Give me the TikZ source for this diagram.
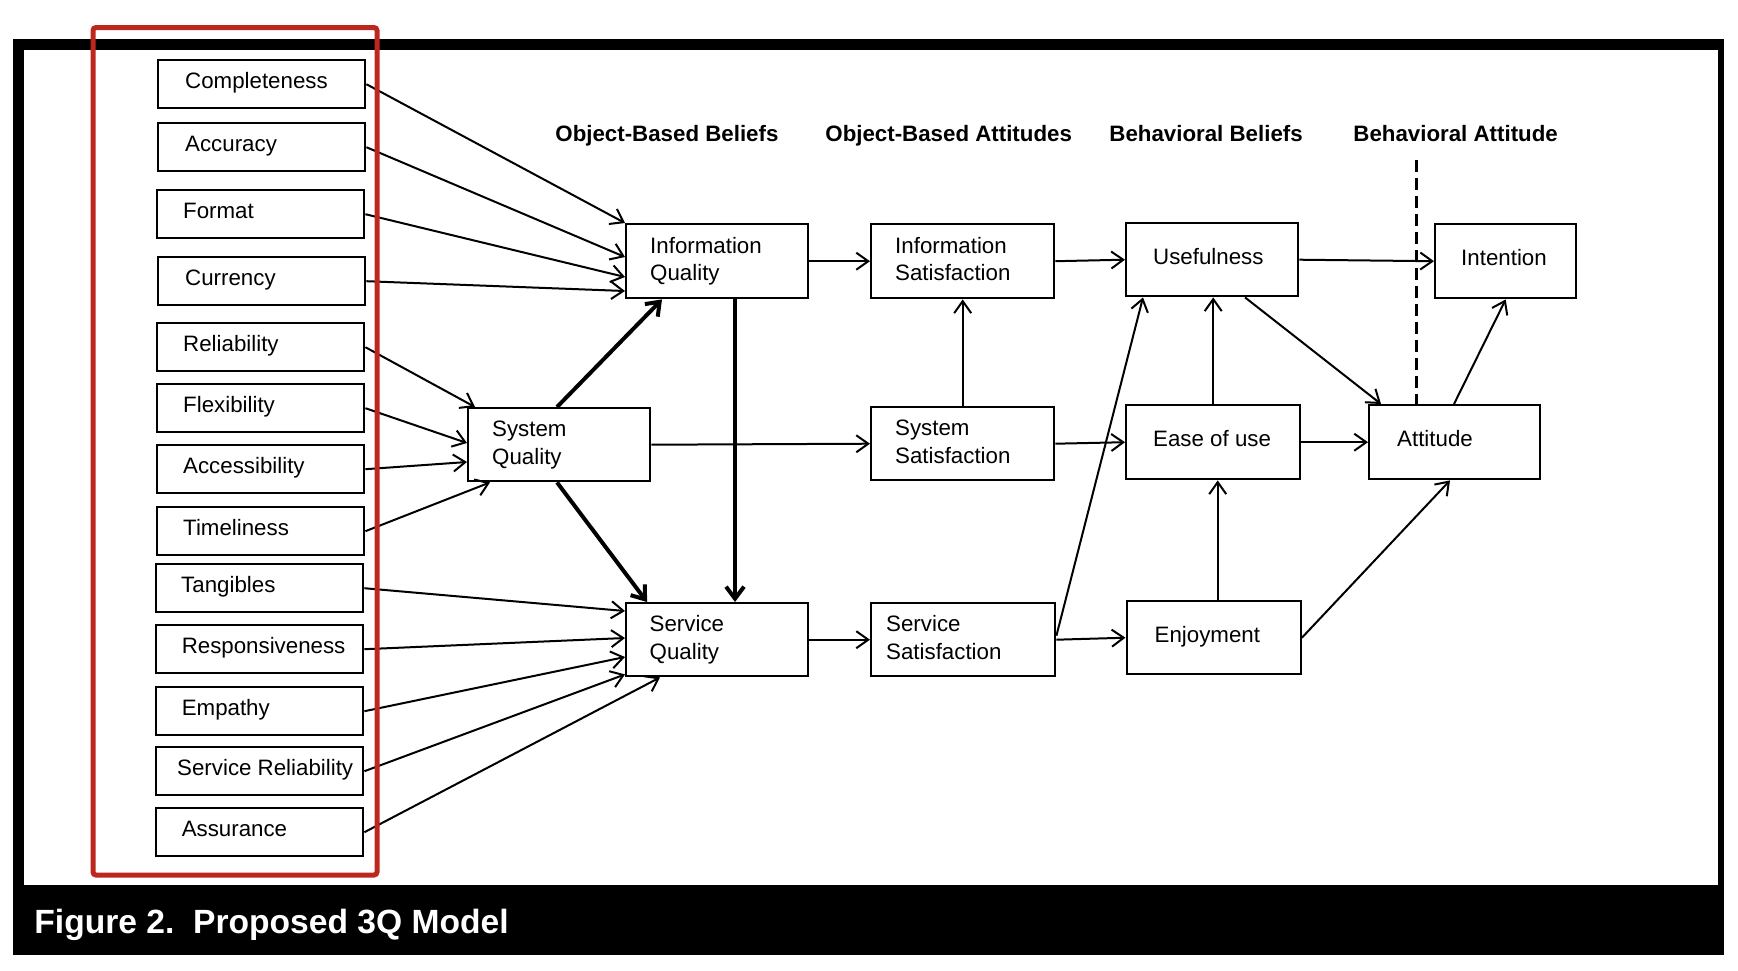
\documentclass[tikz,border=0pt]{standalone}
\usepackage{fontspec}
\setmainfont{Liberation Sans}
\usetikzlibrary{arrows.meta,calc}
\newcommand\lt[3]{\makebox[#1pt][l]{\hspace*{#2pt}#3}}
\definecolor{redbox}{RGB}{188,40,30}
\begin{document}
\begin{tikzpicture}[x=0.5pt,y=-0.5pt,
  box/.style={draw=black,line width=1.2pt,fill=white,inner sep=0pt,anchor=north west,font=\fontsize{11.15}{13.6}\selectfont},
  sl/.style={box,text height=8pt,text depth=3.4pt},
  lb/.style={sl,minimum height=24pt},
  ml/.style={box,align=left,inner ysep=0pt,text height=8pt,text depth=15.8pt},
  arr/.style={line width=1pt,-{Straight Barb[length=6pt,width=8.5pt]}},
  tarr/.style={line width=2pt,-{Straight Barb[length=6pt,width=9pt]}},
  hdr/.style={anchor=base west,inner sep=0pt,font=\bfseries\fontsize{11.15}{13}\selectfont},
]
\useasboundingbox[fill=white] (0,0) rectangle (1738,970);
\fill[black] (13,39) rectangle (1724,955);
\fill[white] (24,50) rectangle (1718,885);
\node[anchor=base west,inner sep=0pt,text=white,font=\bfseries\fontsize{16.8}{20}\selectfont] (cap) at (34,933) {Figure 2.\ \ Proposed 3Q Model};

% headers
\node[hdr] (h1) at (555,141) {Object-Based Beliefs};
\node[hdr] (h2) at (825,141) {Object-Based Attitudes};
\node[hdr] (h3) at (1109,141) {Behavioral Beliefs};
\node[hdr] (h4) at (1353,141) {Behavioral Attitude};

% left boxes
\node[lb] (c1) at (157,59) {\lt{103.5}{13.5}{Completeness}};
\node[lb] (c2) at (157,122) {\lt{103.5}{13.5}{Accuracy}};
\node[lb] (c3) at (156,189) {\lt{103.5}{13}{Format}};
\node[lb] (c4) at (157,256) {\lt{103.5}{13.5}{Currency}};
\node[lb] (c5) at (156,322) {\lt{103.5}{13}{Reliability}};
\node[lb] (c6) at (156,383) {\lt{103.5}{13}{Flexibility}};
\node[lb] (c7) at (156,444) {\lt{103.5}{13}{Accessibility}};
\node[lb] (c8) at (156,506) {\lt{103.5}{13}{Timeliness}};
\node[lb] (c9) at (155,563) {\lt{103.5}{12.5}{Tangibles}};
\node[lb] (c10) at (155,624) {\lt{103.5}{12.8}{Responsiveness}};
\node[lb] (c11) at (155,686) {\lt{103.5}{12.8}{Empathy}};
\node[lb] (c12) at (155,746) {\lt{103.5}{10.5}{Service Reliability}};
\node[lb] (c13) at (155,807) {\lt{103.5}{12.8}{Assurance}};

% middle nodes
\node[ml,text width=67pt,inner xsep=12pt,minimum height=37pt] (iq) at (625,223) {Information\\Quality};
\node[ml,text width=67pt,inner xsep=12pt,minimum height=36.5pt] (sysq) at (467,407) {System\\Quality};
\node[ml,text width=67.5pt,inner xsep=11.75pt,minimum height=36.5pt] (sq) at (625,602) {Service\\Quality};
\node[ml,text width=67.5pt,inner xsep=12pt,minimum height=37pt] (isat) at (870,223) {Information\\Satisfaction};
\node[ml,text width=67.5pt,inner xsep=12pt,minimum height=36.5pt] (ssys) at (870,406) {System\\Satisfaction};
\node[ml,text width=77pt,inner xsep=7.5pt,minimum height=36.5pt] (ssat) at (870,602) {Service\\Satisfaction};
\node[sl,minimum height=36.5pt] (use) at (1125,222) {\lt{86}{13.5}{Usefulness}};
\node[sl,minimum height=37pt] (int) at (1434,223) {\lt{70.5}{13}{Intention}};
\node[sl,minimum height=37pt] (ease) at (1125,404) {\lt{87}{13.5}{Ease of use}};
\node[sl,minimum height=37pt] (att) at (1368,404) {\lt{85.5}{14}{Attitude}};
\node[sl,minimum height=36.5pt] (enj) at (1125.5,600) {\lt{87}{14}{Enjoyment}};

% dashed separator
\coordinate (dtop) at (1416.5,160);
\draw[line width=1.6pt,dash pattern=on 6pt off 3pt] (dtop) -- (dtop |- att.north);

% left -> IQ
\draw[arr] (c1.east) -- (iq.north west);
\draw[arr] (c2.east) -- ([yshift=-17pt]iq.north west);
\draw[arr] (c3.east) -- ([yshift=-27pt]iq.north west);
\draw[arr] (c4.east) -- ([yshift=-34pt]iq.north west);
% left -> SysQ
\draw[arr] (c5.east) -- ([xshift=4pt]sysq.north west);
\draw[arr] (c6.east) -- ([yshift=-18pt]sysq.north west);
\draw[arr] (c7.east) -- ([yshift=-27.5pt]sysq.north west);
\draw[arr] (c8.east) -- ([xshift=11.5pt]sysq.south west);
% left -> ServQ
\draw[arr] (c9.east) -- ([yshift=-4.5pt]sq.north west);
\draw[arr] (c10.east) -- ([yshift=-18pt]sq.north west);
\draw[arr] (c11.east) -- ([yshift=-27.5pt]sq.north west);
\draw[arr] (c12.east) -- ([yshift=1.5pt]sq.south west);
\draw[arr] (c13.east) -- ([xshift=17.5pt]sq.south west);

% thick arrows
\draw[tarr] ([xshift=45pt]sysq.north west) -- ([xshift=18.5pt]iq.south west);
\draw[tarr] ([xshift=45pt]sysq.south west) -- ([xshift=11pt]sq.north west);
\coordinate (iqd) at ([xshift=55pt]iq.south west);
\draw[tarr] (iqd) -- (iqd |- sq.north);

% horizontal
\draw[arr] (iq.east) -- (isat.west);
\draw[arr] (isat.east) -- (use.west);
\draw[arr] (use.east) -- (int.west);
\draw[arr] (sysq.east) -- (ssys.west);
\draw[arr] (ssys.east) -- (ease.west);
\draw[arr] (ease.east) -- (att.west);
\draw[arr] (sq.east) -- (ssat.west);
\draw[arr] (ssat.east) -- (enj.west);

% vertical
\draw[arr] (ssys.north) -- (ssys.north |- isat.south);
\draw[arr] (ease.north) -- (ease.north |- use.south);
\coordinate (enjup) at ([xshift=2pt]enj.north);
\draw[arr] (enjup) -- (enjup |- ease.south);

% diagonals
\draw[arr] ([yshift=2pt]ssat.east) -- ([xshift=9pt]use.south west);
\draw[arr] ([xshift=60pt]use.south west) -- ([xshift=6.5pt]att.north west);
\draw[arr] ([xshift=43pt]att.north west) -- (int.south);
\draw[arr] (enj.east) -- ([xshift=41pt]att.south west);

% red highlight
\draw[redbox,line width=2.5pt,rounded corners=1.5pt] (93,27.5) rectangle (377,875);
\end{tikzpicture}
\end{document}
